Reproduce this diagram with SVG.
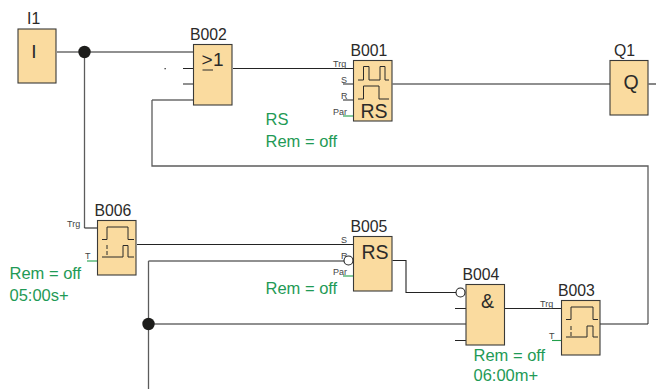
<svg xmlns="http://www.w3.org/2000/svg" width="656" height="389" viewBox="0 0 656 389">
<style>
text{font-family:"Liberation Sans",Arial,sans-serif;fill:#2b2a29}
.box{fill:#fadb9f;stroke:#3a3a38;stroke-width:1.1}
.w{fill:none;stroke:#232323;stroke-width:1.1}
.g{fill:none;stroke:#5c5c5c;stroke-width:1.3}
.pg{fill:none;stroke:#22a04c;stroke-width:1.1}
.sig{fill:none;stroke:#2b2a29;stroke-width:1}
.dot{fill:#1d1d1b}
.inv{fill:#fff;stroke:#232323;stroke-width:1.1}
.n{font-size:15.8px}
.s{font-size:9px;fill:#444}
.big{font-size:19.500px}
.note{font-size:16.500px;fill:#1f9a56}
</style>
<rect width="656" height="389" fill="#fff"/>
<g id="connectors">
<path class="w" d="M57 52H193"/>
<path class="g" d="M84.500 52V228"/>
<path class="w" d="M84.500 228H97"/>
<path class="w" d="M183 68.500H193M183 84H193"/>
<path class="w" d="M193 100H152"/>
<path class="g" d="M152 100V166H648V324"/>
<path class="w" d="M600 324H648"/>
<path class="w" d="M233 68.500H353"/>
<path class="w" d="M343 84H353M343 100H353"/>
<path class="pg" d="M343 116H353"/>
<path class="w" d="M392.500 84H610"/>
<path class="w" d="M648.500 84H656"/>
<path class="w" d="M137 244.500H353"/>
<path class="pg" d="M87 261H97"/>
<path class="w" d="M148.500 261H344"/>
<path class="g" d="M148.500 261V389"/>
<path class="w" d="M148.500 324H466"/>
<path class="pg" d="M343 276H353"/>
<path class="w" d="M392.500 260.500H406V292.500H456"/>
<path class="w" d="M455 308.500H466M455 340.500H466"/>
<path class="w" d="M504.500 308.500H561"/>
<path class="pg" d="M552 340.500H561"/>
<circle class="dot" cx="84.500" cy="52" r="6.200"/>
<circle class="dot" cx="148.500" cy="324" r="6.200"/>
<rect x="164.500" y="68" width="1.300" height="1.300" fill="#333"/>
</g>
<g id="I1">
<rect class="box" x="18" y="29" width="38" height="54"/>
<text class="n" x="27" y="24">I1</text>
<text x="34" y="58" font-size="19" text-anchor="middle">I</text>
</g>
<g id="B002">
<rect class="box" x="193.500" y="44.500" width="38.500" height="60.500"/>
<text class="n" x="190" y="40">B002</text>
<text x="201.500" y="66" font-size="19">&gt;</text>
<path class="sig" d="M202.500 70H213"/>
<text x="213" y="66" font-size="19">1</text>
</g>
<g id="B001">
<rect class="box" x="353.500" y="60.500" width="38.500" height="60.500"/>
<text class="n" x="350.500" y="56">B001</text>
<text class="s" x="333" y="66.500">Trg</text>
<text class="s" x="341" y="82.500">S</text>
<text class="s" x="341" y="98.500">R</text>
<text class="s" x="333" y="114.500">Par</text>
<path class="sig" d="M358 80H363.500V66.500H369V80H380V66.500H385V80H389"/>
<path class="sig" d="M358 99H363.500V86H379V99H389"/>
<text class="big" x="374" y="117.500" text-anchor="middle">RS</text>
</g>
<g id="Q1">
<rect class="box" x="610" y="60.500" width="38" height="54.500"/>
<text class="n" x="614" y="56">Q1</text>
<text class="big" x="631" y="89" text-anchor="middle">Q</text>
</g>
<g id="B006">
<rect class="box" x="97.500" y="220.500" width="38.500" height="54.500"/>
<text class="n" x="94.500" y="216">B006</text>
<text class="s" x="67" y="227">Trg</text>
<text class="s" x="85" y="258.500">T</text>
<path class="sig" d="M102 239.500H107V227H128V239.500H134"/>
<path class="sig" d="M102 257H123V245.500H128V257H134"/>
<path class="sig" d="M107 245V257" stroke-dasharray="4 2"/>
</g>
<g id="B005">
<rect class="box" x="353.500" y="236.500" width="38.500" height="54.500"/>
<text class="n" x="350.500" y="232">B005</text>
<text class="s" x="341" y="242.500">S</text>
<text class="s" x="341" y="258.500">R</text>
<text class="s" x="333" y="274.500">Par</text>
<circle class="inv" cx="348.500" cy="260.500" r="4.500"/>
<text class="big" x="375" y="259" text-anchor="middle">RS</text>
</g>
<g id="B004">
<rect class="box" x="466" y="284.500" width="38.500" height="60.500"/>
<text class="n" x="462.500" y="280">B004</text>
<circle class="inv" cx="460.500" cy="292.500" r="4.500"/>
<text class="big" x="487.500" y="308" text-anchor="middle">&amp;</text>
</g>
<g id="B003">
<rect class="box" x="561.500" y="300.500" width="38.500" height="54.500"/>
<text class="n" x="558" y="296">B003</text>
<text class="s" x="540" y="307">Trg</text>
<text class="s" x="549" y="338.500">T</text>
<path class="sig" d="M566 319.500H571V307H593V319.500H598"/>
<path class="sig" d="M566 337H587V326H593V337H598"/>
<path class="sig" d="M571 326V337" stroke-dasharray="4 2"/>
</g>
<g id="notes">
<text class="note" x="265.500" y="125">RS</text>
<text class="note" x="265.500" y="147">Rem = off</text>
<text class="note" x="9.500" y="279">Rem = off</text>
<text class="note" x="9.500" y="301">05:00s+</text>
<text class="note" x="265.500" y="294">Rem = off</text>
<text class="note" x="473.500" y="361">Rem = off</text>
<text class="note" x="473.500" y="381">06:00m+</text>
</g>
</svg>
